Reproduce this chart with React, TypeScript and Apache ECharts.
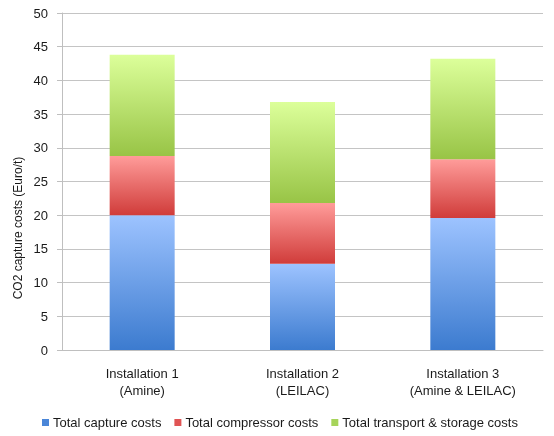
import React, { useEffect, useRef } from "react";
import * as echarts from "echarts";

const categories = ["Installation 1\n(Amine)", "Installation 2\n(LEILAC)", "Installation 3\n(Amine & LEILAC)"];
const captureCosts = [20.0, 12.8, 19.6];
const compressorCosts = [8.8, 9.0, 8.7];
const transportCosts = [15.0, 15.0, 14.9];
const seriesNames = ["Total capture costs", "Total compressor costs", "Total transport & storage costs"];

const FONT = "Liberation Sans";

const grad = (top: string, bottom: string) =>
  new echarts.graphic.LinearGradient(0, 0, 0, 1, [
    { offset: 0, color: top },
    { offset: 1, color: bottom },
  ]);

const App: React.FC = () => {
  const chartRef = useRef<HTMLDivElement>(null);

  useEffect(() => {
    const dom = chartRef.current;
    if (!dom) return;
    const chart = echarts.init(dom, null, { renderer: "svg" });

    const option: echarts.EChartsOption = {
      animation: false,
      textStyle: { fontFamily: FONT },
      grid: { left: 62, right: 11, top: 13, bottom: 86 },
      legend: {
        left: 37,
        top: 411,
        itemWidth: 7,
        itemHeight: 7,
        itemGap: 13,
        icon: "rect",
        textStyle: { fontSize: 13, color: "#1a1a1a", fontFamily: FONT, padding: [0, 0, 0, -1] },
        data: [
          { name: seriesNames[0], itemStyle: { color: "#4A86D8" } },
          { name: seriesNames[1], itemStyle: { color: "#E05454" } },
          { name: seriesNames[2], itemStyle: { color: "#A6D45A" } },
        ],
      },
      graphic: [
        {
          type: "text",
          x: 18,
          y: 228,
          rotation: Math.PI / 2,
          style: {
            text: "CO2 capture costs (Euro/t)",
            fontSize: 12,
            fontFamily: FONT,
            fill: "#1a1a1a",
            align: "center",
            verticalAlign: "middle",
          },
        },
      ],
      xAxis: {
        type: "category",
        data: categories,
        axisLine: { lineStyle: { color: "#BFBFBF" } },
        axisTick: { length: 5, lineStyle: { color: "#BFBFBF" } },
        axisLabel: { color: "#1a1a1a", fontSize: 13, lineHeight: 17, margin: 15, fontFamily: FONT },
      },
      yAxis: {
        type: "value",
        min: 0,
        max: 50,
        interval: 5,
        axisLine: { show: true, lineStyle: { color: "#BFBFBF" } },
        axisTick: { show: true, length: 5, lineStyle: { color: "#BFBFBF" } },
        axisLabel: { color: "#1a1a1a", fontSize: 13, margin: 14, fontFamily: FONT },
        splitLine: { lineStyle: { color: "#C4C4C4" } },
      },
      series: [
        {
          name: seriesNames[0],
          type: "bar",
          stack: "total",
          barWidth: 65,
          data: captureCosts,
          itemStyle: { color: grad("#9DC3FF", "#3C7BCF") },
        },
        {
          name: seriesNames[1],
          type: "bar",
          stack: "total",
          barWidth: 65,
          data: compressorCosts,
          itemStyle: { color: grad("#FF9C9A", "#D03C3A") },
        },
        {
          name: seriesNames[2],
          type: "bar",
          stack: "total",
          barWidth: 65,
          data: transportCosts,
          itemStyle: { color: grad("#DCFF9A", "#98C446") },
        },
      ],
    };

    chart.setOption(option);
    return () => {
      chart.dispose();
    };
  }, []);

  return (
    <div
      ref={chartRef}
      style={{ position: "fixed", left: 0, top: 0, width: "554px", height: "436px" }}
    />
  );
};

export default App;
